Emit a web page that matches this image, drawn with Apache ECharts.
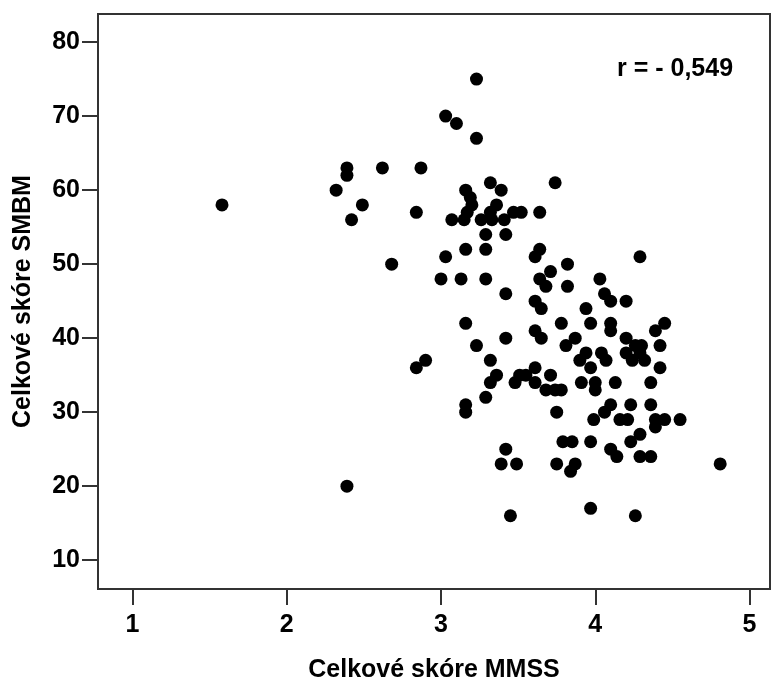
<!DOCTYPE html>
<html>
<head>
<meta charset="utf-8">
<script src="https://cdn.jsdelivr.net/npm/echarts@6/dist/echarts.min.js"></script>
<style>
  html, body { margin: 0; padding: 0; background: #fff; }
  #chart { width: 779px; height: 678px; }
</style>
</head>
<body>
<div id="chart"></div>
<script>
// Celkové skóre MMSS (x) a SMBM (y)
const mmss = [
  1.58, 2.39, 2.39, 2.32, 2.49, 2.42, 2.62, 2.68, 3.23, 3.03,
  3.10, 3.23, 2.87, 2.84, 3.32, 3.39, 3.16, 3.19, 3.20, 3.36,
  3.17, 3.07, 3.15, 3.26, 3.32, 3.33, 3.41, 3.47, 3.52, 3.64,
  3.74, 3.29, 3.42, 3.16, 3.29, 3.03, 3.64, 3.61, 3.00, 3.13,
  3.29, 3.42, 3.71, 3.64, 3.68, 3.82, 3.82, 3.61, 3.65, 4.29,
  4.03, 4.06, 4.10, 4.20, 3.94, 3.78, 3.97, 4.10, 4.10, 4.45,
  4.39, 3.87, 3.81, 4.20, 4.42, 3.94, 3.90, 4.04, 4.07, 3.97,
  4.20, 4.26, 4.30, 4.24, 4.29, 4.32, 4.42, 3.91, 4.00, 4.13,
  4.36, 4.00, 3.78, 4.10, 4.06, 4.23, 4.36, 3.99, 4.16, 4.21,
  4.39, 4.45, 4.55, 4.39, 3.75, 3.79, 3.85, 3.97, 4.29, 4.23,
  4.10, 4.14, 4.29, 4.36, 3.87, 3.84, 3.75, 4.81, 3.97, 4.26,
  3.16, 3.42, 3.23, 3.61, 3.65, 2.90, 2.84, 3.32, 3.36, 3.32,
  3.51, 3.55, 3.48, 3.61, 3.61, 3.71, 3.68, 3.74, 3.29, 3.16,
  3.16, 3.42, 3.39, 3.49, 3.45, 2.39
];
const smbm = [
  58, 63, 62, 60, 58, 56, 63, 50, 75, 70,
  69, 67, 63, 57, 61, 60, 60, 59, 58, 58,
  57, 56, 56, 56, 57, 56, 56, 57, 57, 57,
  61, 54, 54, 52, 52, 51, 52, 51, 48, 48,
  48, 46, 49, 48, 47, 50, 47, 45, 44, 51,
  48, 46, 45, 45, 44, 42, 42, 42, 41, 42,
  41, 40, 39, 40, 39, 38, 37, 38, 37, 36,
  38, 39, 39, 37, 38, 37, 36, 34, 34, 34,
  34, 33, 33, 31, 30, 31, 31, 29, 29, 29,
  29, 29, 29, 28, 30, 26, 26, 26, 27, 26,
  25, 24, 24, 24, 23, 22, 23, 23, 17, 16,
  42, 40, 39, 41, 40, 37, 36, 37, 35, 34,
  35, 35, 34, 36, 34, 35, 33, 33, 32, 31,
  30, 25, 23, 23, 16, 20
];
const xTicks = [1, 2, 3, 4, 5];
const yTicks = [10, 20, 30, 40, 50, 60, 70, 80];
const corrText = "r = - 0,549";

const chart = echarts.init(document.getElementById("chart"), null, { renderer: "canvas" });

const axisColor = "#333";
const font = "'Liberation Sans', Arial, sans-serif";

const option = {
  animation: false,
  backgroundColor: "#fff",
  grid: {
    left: 98,
    top: 14,
    right: 9,
    bottom: 89,
    outerBoundsMode: "none",
    show: true,
    borderColor: axisColor,
    borderWidth: 2,
  },
  xAxis: {
    type: "value",
    min: 0.776,
    max: 5.133,
    name: "Celkové skóre MMSS",
    nameLocation: "middle",
    nameGap: 69,
    nameTextStyle: { color: "#000", fontSize: 25, fontWeight: "bold", fontFamily: font },
    splitLine: { show: false },
    axisLine: { show: true, onZero: false, lineStyle: { color: axisColor, width: 2 } },
    axisTick: {
      show: true,
      length: 16,
      customValues: xTicks,
      lineStyle: { color: axisColor, width: 2 },
    },
    axisLabel: {
      customValues: xTicks,
      margin: 24,
      color: "#000",
      fontSize: 25,
      fontWeight: "bold",
      fontFamily: font,
    },
  },
  yAxis: {
    type: "value",
    min: 6.1,
    max: 83.8,
    name: "Celkové skóre SMBM",
    nameLocation: "middle",
    nameGap: 62,
    nameRotate: 90,
    nameTextStyle: { color: "#000", fontSize: 25, fontWeight: "bold", fontFamily: font },
    splitLine: { show: false },
    axisLine: { show: true, onZero: false, lineStyle: { color: axisColor, width: 2 } },
    axisTick: {
      show: true,
      length: 16,
      customValues: yTicks,
      lineStyle: { color: axisColor, width: 2 },
    },
    axisLabel: {
      customValues: yTicks,
      margin: 18,
      color: "#000",
      fontSize: 25,
      fontWeight: "bold",
      fontFamily: font,
    },
  },
  graphic: [
    {
      type: "text",
      left: 617,
      top: 57,
      style: {
        text: corrText,
        fill: "#000",
        font: "bold 25px " + font,
      },
    },
  ],
  series: [
    {
      type: "scatter",
      symbol: "circle",
      symbolSize: 13,
      data: mmss.map((v, i) => [v, smbm[i]]),
      itemStyle: { color: "#000", opacity: 1 },
    },
  ],
};

chart.setOption(option);
</script>
</body>
</html>
